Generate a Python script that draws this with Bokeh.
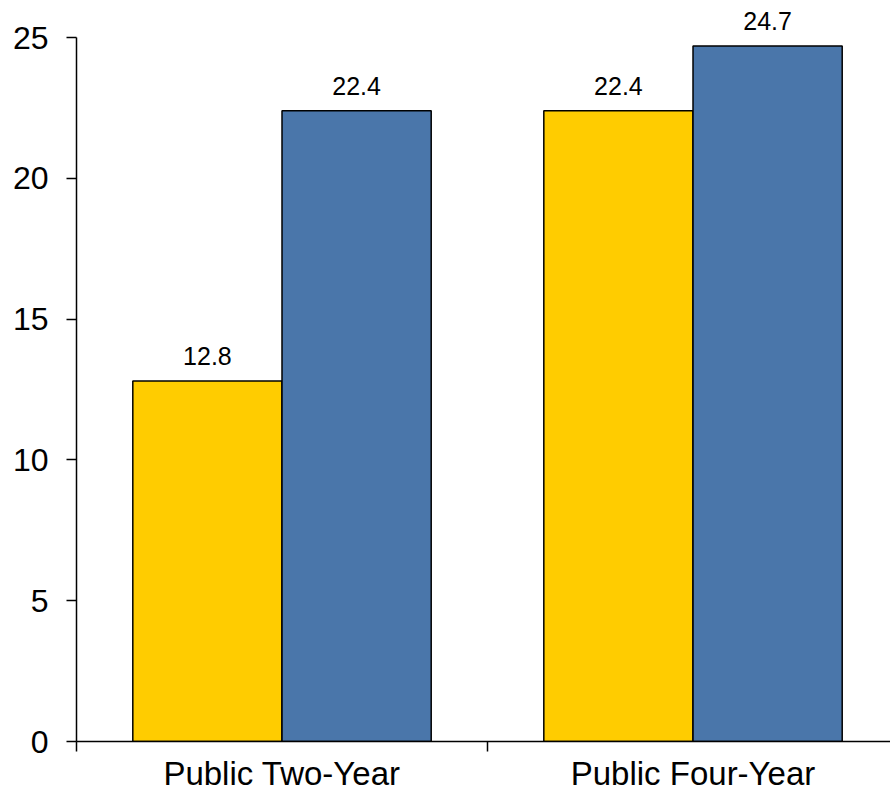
from bokeh.plotting import figure
from bokeh.models import Range1d, FixedTicker, ColumnDataSource
from bokeh.core.properties import value
from bokeh.embed import file_html
from bokeh.resources import INLINE

# ---- data ----
categories = ["Public Two-Year", "Public Four-Year"]
yellow_values = [12.8, 22.4]
blue_values = [22.4, 24.7]
y_ticks = [0, 5, 10, 15, 20, 25]

# ---- style ----
YELLOW = "#FFCC00"
BLUE = "#4A76AA"
FONT = "Liberation Sans"

centers = [i + 0.5 for i in range(len(categories))]
boundaries = [i for i in range(len(categories) + 1)]
bar_w = 0.363
yellow_x = [c - bar_w / 2 for c in centers]
blue_x = [c + bar_w / 2 for c in centers]

p = figure(width=890, height=794, output_backend="svg", toolbar_location=None,
           x_range=Range1d(0, 1.9805), y_range=Range1d(0, 26.314),
           min_border_left=76, min_border_right=0, min_border_top=0,
           min_border_bottom=53)
p.outline_line_color = None
p.grid.visible = False
p.background_fill_color = "white"
p.border_fill_color = "white"

src_y = ColumnDataSource(dict(x=yellow_x, top=yellow_values,
                              label=[f"{v:.1f}" for v in yellow_values]))
src_b = ColumnDataSource(dict(x=blue_x, top=blue_values,
                              label=[f"{v:.1f}" for v in blue_values]))

for src, col in ((src_y, YELLOW), (src_b, BLUE)):
    p.vbar(x="x", top="top", bottom=0, width=bar_w, source=src,
           fill_color=col, line_color="black", line_width=1.5)
    p.text(x="x", y="top", text="label", source=src,
           text_font=value(FONT), text_font_size="25px", text_color="black",
           text_align="center", text_baseline="alphabetic", y_offset=-25)

# x axis
xa = p.xaxis[0]
xa.ticker = FixedTicker(ticks=centers, minor_ticks=boundaries)
xa.major_label_overrides = {c: cat for c, cat in zip(centers, categories)}
xa.major_tick_line_color = None
xa.major_tick_out = 10
xa.major_tick_in = 0
xa.minor_tick_out = 10
xa.minor_tick_in = 0
xa.minor_tick_line_color = "black"
xa.minor_tick_line_width = 1.5
xa.axis_line_color = "black"
xa.axis_line_width = 1.5
xa.major_label_text_font = FONT
xa.major_label_text_font_size = "33px"
xa.major_label_text_color = "black"
xa.major_label_standoff = 3

# y axis
ya = p.yaxis[0]
ya.ticker = FixedTicker(ticks=y_ticks)
ya.bounds = (0, 25)
ya.major_tick_out = 10
ya.major_tick_in = 0
ya.major_tick_line_color = "black"
ya.major_tick_line_width = 1.5
ya.minor_tick_line_color = None
ya.axis_line_color = "black"
ya.axis_line_width = 1.5
ya.major_label_text_font = FONT
ya.major_label_text_font_size = "32px"
ya.major_label_text_color = "black"
ya.major_label_standoff = 18

open("out.html", "w").write(file_html(p, INLINE))
